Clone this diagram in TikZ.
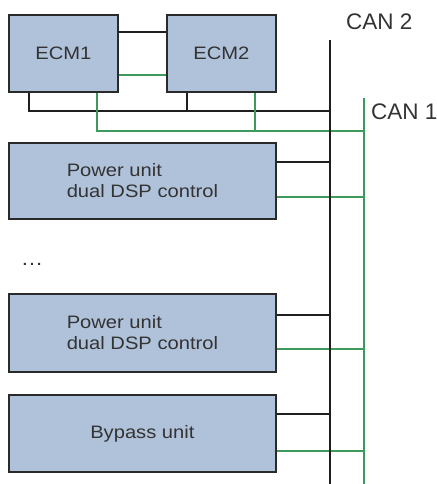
\documentclass[tikz,border=0pt]{standalone}
\usepackage{fontspec}
\setmainfont{Liberation Sans}
\usepackage{graphicx}
\definecolor{boxfill}{HTML}{B0C2DA}
\definecolor{boxline}{HTML}{2A2A2A}
\definecolor{txt}{HTML}{333333}
\definecolor{cangreen}{HTML}{3C9A5C}
\newcommand{\wtext}[1]{\scalebox{1.12}[1]{#1}}
\begin{document}
\begin{tikzpicture}[x=1pt,y=-1pt,
  unitbox/.style={draw=boxline, fill=boxfill, line width=1.8pt, anchor=north west,
    inner sep=0pt, text=txt, font=\fontsize{18}{21}\selectfont},
  blk/.style={draw=black!88, line width=2.7pt},
  grn/.style={draw=cangreen, line width=2.7pt},
  lbl/.style={text=txt, font=\fontsize{22.5}{26}\selectfont, inner sep=0pt}]
\useasboundingbox (0,0) rectangle (436,484);
% buses
\coordinate (can2top) at (330,40);
\coordinate (can2bot) at (330,484);
\coordinate (can1top) at (364,98);
\coordinate (can1bot) at (364,484);
% boxes
\node[unitbox, minimum width=109pt, minimum height=77pt] (ecm1) at (8,14) {\wtext{ECM1}};
\node[unitbox, minimum width=109pt, minimum height=77pt] (ecm2) at (166,14) {\wtext{ECM2}};
\node[unitbox, minimum width=267pt, minimum height=76pt, align=left] (pu1) at (8,142) {\wtext{Power unit}\\\wtext{dual DSP control}};
\node[unitbox, minimum width=267pt, minimum height=78pt, align=left] (pu2) at (8,293) {\wtext{Power unit}\\\wtext{dual DSP control}};
\node[unitbox, minimum width=267pt, minimum height=77pt] (byp) at (8,394) {\wtext{Bypass unit}};
\node[text=txt, font=\fontsize{20}{24}\selectfont, inner sep=0pt] (dots) at (32,264) {\wtext{\ldots}};
% labels
\node[lbl, anchor=west] (can2lbl) at (346,22) {CAN 2};
\node[lbl, anchor=west] (can1lbl) at (371,112) {CAN 1};
% ECM interlinks
\draw[blk] (ecm1.east |- 0,32) -- (ecm2.west |- 0,32);
\draw[grn] (ecm1.east |- 0,75) -- (ecm2.west |- 0,75);
% ECM to buses
\coordinate (e1b) at (29,111);
\coordinate (e2b) at (187,111);
\coordinate (e1g) at (97,131);
\coordinate (e2g) at (255,131);
\draw[blk] (ecm1.south -| e1b) -- (e1b) -- (can2top |- e1b);
\draw[blk] (ecm2.south -| e2b) -- (e2b);
\draw[grn] (ecm1.south -| e1g) -- (e1g) -- (can1top |- e1g);
\draw[grn] (ecm2.south -| e2g) -- (e2g);
% units to buses
\draw[blk] (pu1.east |- 0,162) -- (can2top |- 0,162);
\draw[grn] (pu1.east |- 0,197) -- (can1top |- 0,197);
\draw[blk] (pu2.east |- 0,315) -- (can2top |- 0,315);
\draw[grn] (pu2.east |- 0,349) -- (can1top |- 0,349);
\draw[blk] (byp.east |- 0,414) -- (can2top |- 0,414);
\draw[grn] (byp.east |- 0,451) -- (can1top |- 0,451);
% buses
\draw[blk] (can2top) -- (can2bot);
\draw[grn] (can1top) -- (can1bot);
\end{tikzpicture}
\end{document}
